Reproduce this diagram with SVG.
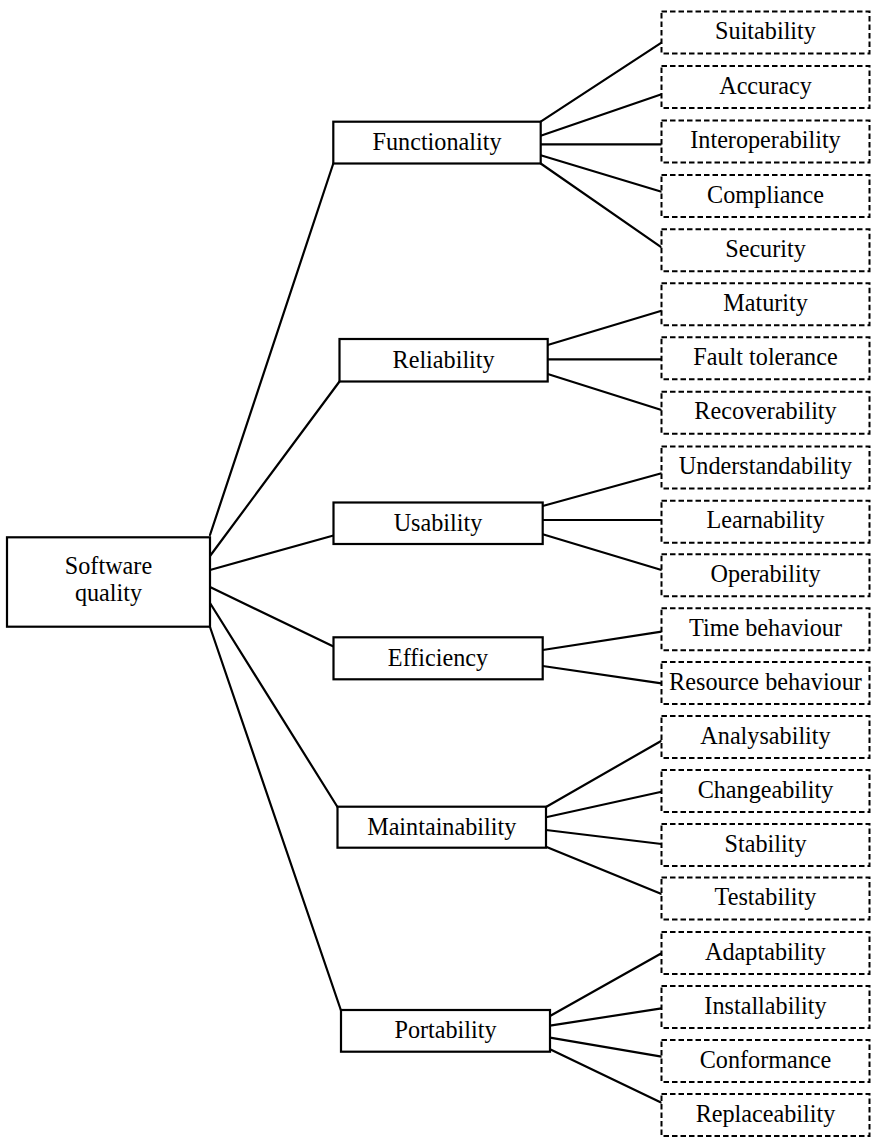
<svg xmlns="http://www.w3.org/2000/svg" width="874" height="1143" viewBox="0 0 874 1143">
  <style>
    .box { fill: #ffffff; stroke: #000000; stroke-width: 2.2; }
    .sub { fill: #ffffff; stroke: #000000; stroke-width: 2; stroke-dasharray: 5.5 3; }
    .lbl { font-family: "Liberation Serif", "Times New Roman", serif; font-size: 24.2px; fill: #000000; text-anchor: middle; }
    #connectors line { stroke: #000000; stroke-width: 2.2; stroke-linecap: round; }
  </style>
  <rect width="874" height="1143" fill="#ffffff"/>

  <!-- connectors -->
  <g id="connectors">
    <!-- root to characteristics -->
    <line x1="210" y1="535" x2="333.3" y2="163.5"/>
    <line x1="210" y1="556" x2="339.5" y2="381.5"/>
    <line x1="210" y1="570" x2="333.5" y2="535.5"/>
    <line x1="210" y1="587" x2="333.5" y2="646.5"/>
    <line x1="210" y1="603" x2="337.5" y2="807"/>
    <line x1="210" y1="627" x2="341" y2="1010.5"/>
    <!-- Functionality -->
    <line x1="540.7" y1="121.7" x2="661.5" y2="42.7"/>
    <line x1="540.7" y1="135.7" x2="661.5" y2="94.3"/>
    <line x1="540.7" y1="144.3" x2="661.5" y2="144.3"/>
    <line x1="540.7" y1="155.3" x2="661.5" y2="191.7"/>
    <line x1="540.7" y1="163.5" x2="661.5" y2="247.3"/>
    <!-- Reliability -->
    <line x1="547.7" y1="345" x2="661.5" y2="310.7"/>
    <line x1="547.7" y1="359.3" x2="661.5" y2="359.3"/>
    <line x1="547.7" y1="374" x2="661.5" y2="410"/>
    <!-- Usability -->
    <line x1="542.7" y1="506" x2="661.5" y2="473.3"/>
    <line x1="542.7" y1="520" x2="661.5" y2="520"/>
    <line x1="542.7" y1="534.3" x2="661.5" y2="570"/>
    <!-- Efficiency -->
    <line x1="542.7" y1="650" x2="661.5" y2="631.7"/>
    <line x1="542.7" y1="666" x2="661.5" y2="683.3"/>
    <!-- Maintainability -->
    <line x1="546" y1="807" x2="661.5" y2="740.7"/>
    <line x1="546" y1="817.3" x2="661.5" y2="791.7"/>
    <line x1="546" y1="830" x2="661.5" y2="844"/>
    <line x1="546" y1="846.7" x2="661.5" y2="894"/>
    <!-- Portability -->
    <line x1="550" y1="1016" x2="661.5" y2="953.3"/>
    <line x1="550" y1="1025.7" x2="661.5" y2="1008.3"/>
    <line x1="550" y1="1037.7" x2="661.5" y2="1056.7"/>
    <line x1="550" y1="1049.3" x2="661.5" y2="1102.7"/>
  </g>

  <!-- root -->
  <g id="software-quality">
    <rect class="box" x="7" y="537.3" width="203" height="89.4"/>
    <text class="lbl" x="108.5" y="573.5">Software</text>
    <text class="lbl" x="108.5" y="600.5">quality</text>
  </g>

  <!-- characteristics -->
  <g id="functionality">
    <rect class="box" x="333.3" y="121.7" width="207.4" height="41.8"/>
    <text class="lbl" x="437" y="150">Functionality</text>
  </g>
  <g id="reliability">
    <rect class="box" x="339.5" y="339" width="208.2" height="42.5"/>
    <text class="lbl" x="443.6" y="367.5">Reliability</text>
  </g>
  <g id="usability">
    <rect class="box" x="333.5" y="502.5" width="209.2" height="41.5"/>
    <text class="lbl" x="438" y="530.5">Usability</text>
  </g>
  <g id="efficiency">
    <rect class="box" x="333.5" y="637.3" width="209.2" height="42"/>
    <text class="lbl" x="438" y="665.5">Efficiency</text>
  </g>
  <g id="maintainability">
    <rect class="box" x="337.5" y="806.7" width="208.5" height="41"/>
    <text class="lbl" x="441.7" y="834.5">Maintainability</text>
  </g>
  <g id="portability">
    <rect class="box" x="341" y="1010" width="209" height="41.7"/>
    <text class="lbl" x="445.5" y="1038">Portability</text>
  </g>

  <!-- sub-characteristics -->
  <g id="suitability"><rect class="sub" x="661.5" y="11.5" width="208" height="42"/><text class="lbl" x="765.5" y="39">Suitability</text></g>
  <g id="accuracy"><rect class="sub" x="661.5" y="66" width="208" height="42"/><text class="lbl" x="765.5" y="93.5">Accuracy</text></g>
  <g id="interoperability"><rect class="sub" x="661.5" y="120.5" width="208" height="42"/><text class="lbl" x="765.5" y="148">Interoperability</text></g>
  <g id="compliance"><rect class="sub" x="661.5" y="175" width="208" height="42"/><text class="lbl" x="765.5" y="202.5">Compliance</text></g>
  <g id="security"><rect class="sub" x="661.5" y="229.3" width="208" height="42"/><text class="lbl" x="765.5" y="256.8">Security</text></g>
  <g id="maturity"><rect class="sub" x="661.5" y="283.3" width="208" height="42"/><text class="lbl" x="765.5" y="310.8">Maturity</text></g>
  <g id="fault-tolerance"><rect class="sub" x="661.5" y="337.3" width="208" height="42"/><text class="lbl" x="765.5" y="364.8">Fault tolerance</text></g>
  <g id="recoverability"><rect class="sub" x="661.5" y="391.7" width="208" height="42"/><text class="lbl" x="765.5" y="419.2">Recoverability</text></g>
  <g id="understandability"><rect class="sub" x="661.5" y="446.5" width="208" height="42"/><text class="lbl" x="765.5" y="474">Understandability</text></g>
  <g id="learnability"><rect class="sub" x="661.5" y="500.7" width="208" height="42"/><text class="lbl" x="765.5" y="528.2">Learnability</text></g>
  <g id="operability"><rect class="sub" x="661.5" y="554.3" width="208" height="42"/><text class="lbl" x="765.5" y="581.8">Operability</text></g>
  <g id="time-behaviour"><rect class="sub" x="661.5" y="608.3" width="208" height="42"/><text class="lbl" x="765.5" y="635.8">Time behaviour</text></g>
  <g id="resource-behaviour"><rect class="sub" x="661.5" y="662" width="208" height="42"/><text class="lbl" x="765.5" y="689.5">Resource behaviour</text></g>
  <g id="analysability"><rect class="sub" x="661.5" y="716" width="208" height="42"/><text class="lbl" x="765.5" y="743.5">Analysability</text></g>
  <g id="changeability"><rect class="sub" x="661.5" y="770" width="208" height="42"/><text class="lbl" x="765.5" y="797.5">Changeability</text></g>
  <g id="stability"><rect class="sub" x="661.5" y="824" width="208" height="42"/><text class="lbl" x="765.5" y="851.5">Stability</text></g>
  <g id="testability"><rect class="sub" x="661.5" y="877.5" width="208" height="42"/><text class="lbl" x="765.5" y="905">Testability</text></g>
  <g id="adaptability"><rect class="sub" x="661.5" y="932" width="208" height="42"/><text class="lbl" x="765.5" y="959.5">Adaptability</text></g>
  <g id="installability"><rect class="sub" x="661.5" y="986" width="208" height="42"/><text class="lbl" x="765.5" y="1013.5">Installability</text></g>
  <g id="conformance"><rect class="sub" x="661.5" y="1040" width="208" height="42"/><text class="lbl" x="765.5" y="1067.5">Conformance</text></g>
  <g id="replaceability"><rect class="sub" x="661.5" y="1094" width="208" height="42"/><text class="lbl" x="765.5" y="1121.5">Replaceability</text></g>
</svg>
